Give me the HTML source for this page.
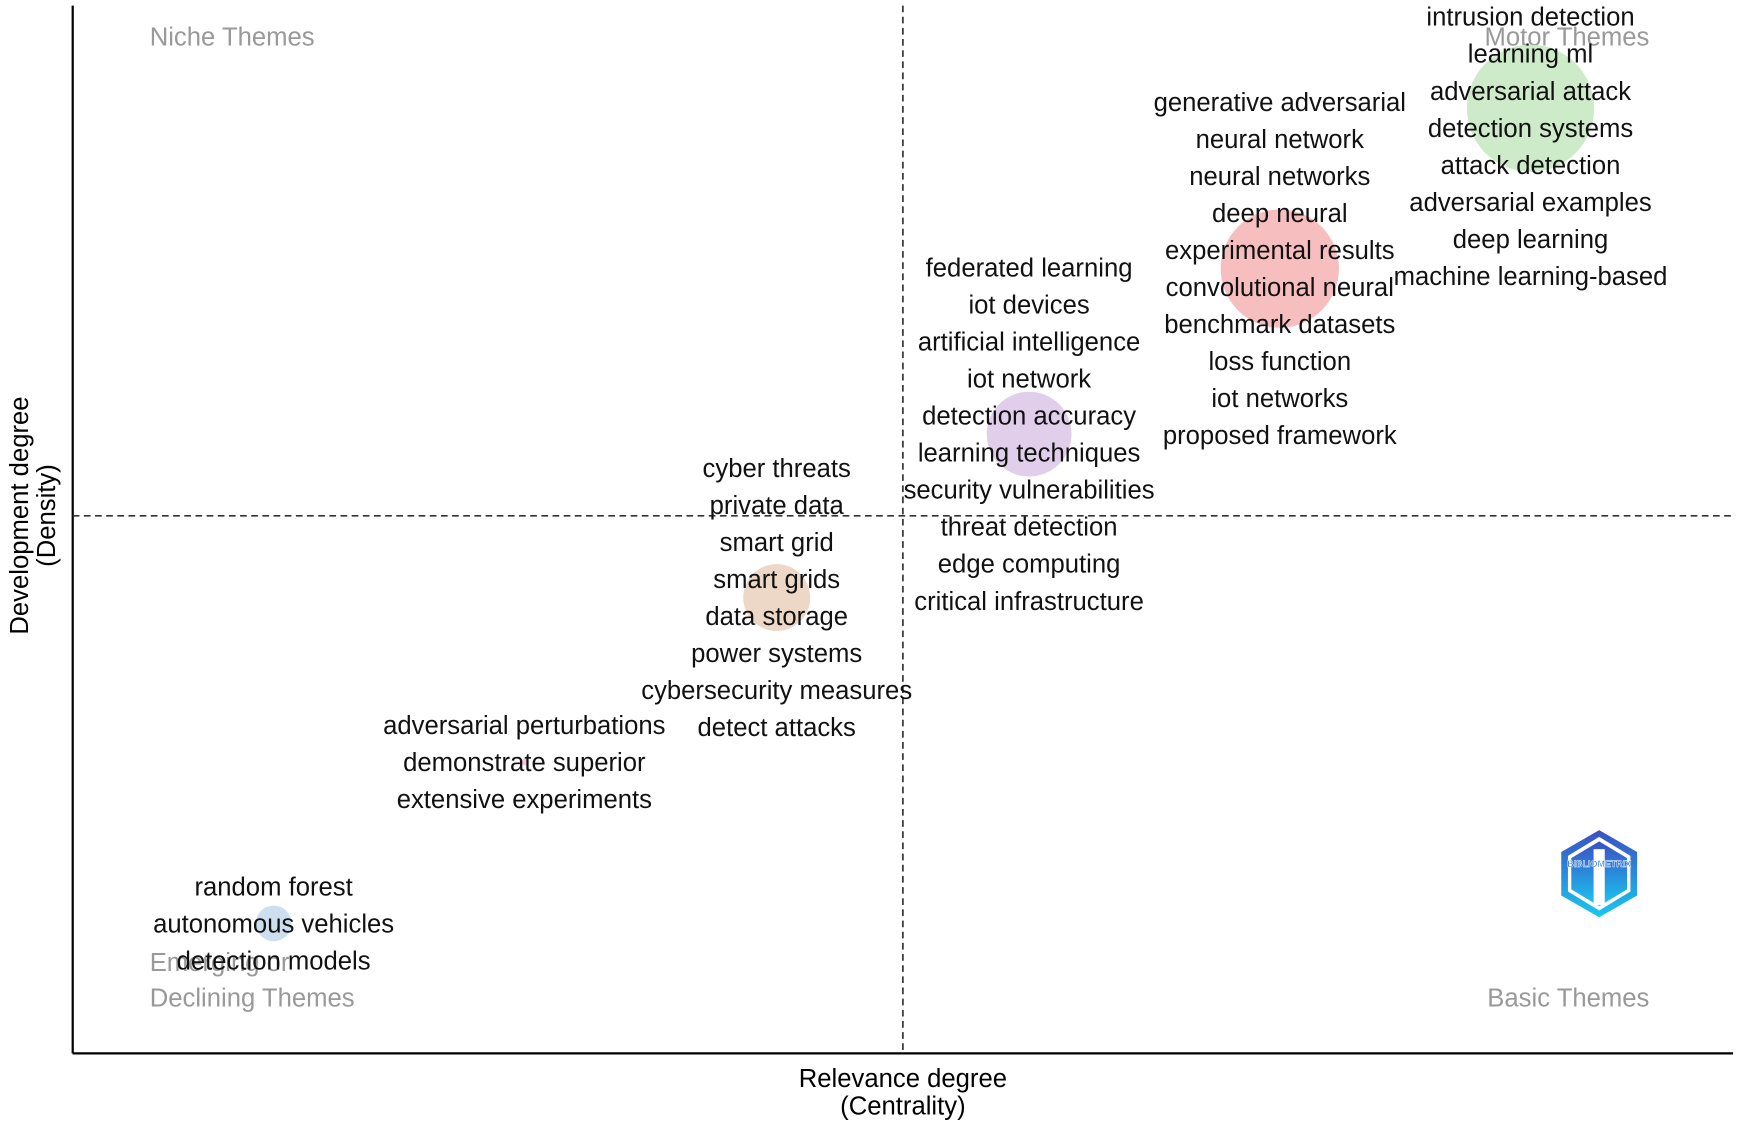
<!DOCTYPE html>
<html><head><meta charset="utf-8"><style>
html,body{margin:0;padding:0;background:#fff;}
svg{display:block;font-family:"Liberation Sans",Arial,sans-serif;}
</style></head><body>
<svg id="chart" width="1750" height="1127" viewBox="0 0 1568 1010" xmlns="http://www.w3.org/2000/svg">
<g id="plot"></g>
</svg>
<script>
const clusterNames = ["intrusion detection","generative adversarial","federated learning","cyber threats","adversarial perturbations","random forest"];
const centrality = [87.8, 72.7, 57.6, 42.4, 27.2, 12.1];
const density = [90.2, 74.9, 59.1, 43.5, 27.8, 12.4];
const bubbleSize = [57, 53, 38, 30, 3, 16];
const bubbleColors = ["#c6e8c0","#f5b3b3","#dcc6e6","#ead0bd","#f0c0e0","#c4d8ec"];
const clusterLabels = [
 ["intrusion detection","learning ml","adversarial attack","detection systems","attack detection","adversarial examples","deep learning","machine learning-based"],
 ["generative adversarial","neural network","neural networks","deep neural","experimental results","convolutional neural","benchmark datasets","loss function","iot networks","proposed framework"],
 ["federated learning","iot devices","artificial intelligence","iot network","detection accuracy","learning techniques","security vulnerabilities","threat detection","edge computing","critical infrastructure"],
 ["cyber threats","private data","smart grid","smart grids","data storage","power systems","cybersecurity measures","detect attacks"],
 ["adversarial perturbations","demonstrate superior","extensive experiments"],
 ["random forest","autonomous vehicles","detection models"]
];
const medianX = 50, medianY = 51.3;

const L=65,R=1553,T=5,B=944;
const xs = v => L + v/100*(R-L);
const ys = v => B - v/100*(B-T);
const NS="http://www.w3.org/2000/svg";
const g=document.getElementById('plot');
function mk(tag,attrs,parent){const e=document.createElementNS(NS,tag);for(const k in attrs)e.setAttribute(k,attrs[k]);(parent||g).appendChild(e);return e;}
function txt(s,attrs){const e=mk('text',attrs);e.textContent=s;return e;}

let e;
e=mk('line',{x1:L,y1:T,x2:L,y2:B,stroke:'#000','stroke-width':2});


e=mk('line',{x1:L,y1:B,x2:R,y2:B,stroke:'#000','stroke-width':2});


e=mk('line',{x1:xs(medianX),y1:T,x2:xs(medianX),y2:B,stroke:'#333','stroke-width':1.5,'stroke-dasharray':'6,4'});


e=mk('line',{x1:L,y1:ys(medianY),x2:R,y2:ys(medianY),stroke:'#333','stroke-width':1.5,'stroke-dasharray':'6,4'});



const qStyle={fill:'#999','font-size':23};
e=txt('Niche Themes',Object.assign({x:134,y:41},qStyle));


e=txt('Motor Themes',Object.assign({x:1478,y:41,'text-anchor':'end'},qStyle));


e=txt('Emerging or',Object.assign({x:134,y:870},qStyle));


e=txt('Declining Themes',Object.assign({x:134,y:902},qStyle));


e=txt('Basic Themes',Object.assign({x:1478,y:902,'text-anchor':'end'},qStyle));



e=txt('Relevance degree',{x:809,y:974,'text-anchor':'middle','font-size':23,fill:'#000'});


e=txt('(Centrality)',{x:809,y:999,'text-anchor':'middle','font-size':23,fill:'#000'});


e=txt('Development degree',{x:0,y:0,'text-anchor':'middle','font-size':23,fill:'#000',transform:'translate(25,462) rotate(-90)'});


e=txt('(Density)',{x:0,y:0,'text-anchor':'middle','font-size':23,fill:'#000',transform:'translate(49,462) rotate(-90)'});



for(let i=0;i<centrality.length;i++){
  const c=mk('circle',{cx:xs(centrality[i]),cy:ys(density[i]),r:bubbleSize[i],fill:bubbleColors[i],opacity:0.85});
  
  
}
const LH=33.2;
for(let i=0;i<centrality.length;i++){
  const n=clusterLabels[i].length;
  const cx=xs(centrality[i]), cy=ys(density[i]);
  let start=Math.max(15, cy-(n-1)*LH/2);
  clusterLabels[i].forEach((s,j)=>{
    const t=txt(s,{x:cx,y:start+j*LH+8,'text-anchor':'middle','font-size':23,fill:'#111'});
    
    
  });
}

const lg=mk('g',{transform:'translate(1433,783)'});


const grad=mk('linearGradient',{id:'lgGrad',x1:0,y1:0,x2:0,y2:1},mk('defs',{},lg));
mk('stop',{offset:'0','stop-color':'#3b4fc4'},grad);
mk('stop',{offset:'1','stop-color':'#19c8f0'},grad);
mk('polygon',{points:'0,-39 34,-19.5 34,19.5 0,39 -34,19.5 -34,-19.5',fill:'url(#lgGrad)'},lg);
mk('polygon',{points:'0,-33 28,-16 28,16 0,33 -28,16 -28,-16',fill:'#fff'},lg);
mk('polygon',{points:'0,-29 25,-14 25,14 0,29 -25,14 -25,-14',fill:'url(#lgGrad)'},lg);
mk('rect',{x:-5,y:-22,width:10,height:50,fill:'#fff'},lg);
const lt=mk('text',{x:0,y:-6,'text-anchor':'middle','font-size':8,'font-weight':'bold',fill:'#1a6fd8',stroke:'#fff','stroke-width':0.4},lg);
lt.textContent='BIBLIOMETRIX';
</script>
</body></html>
